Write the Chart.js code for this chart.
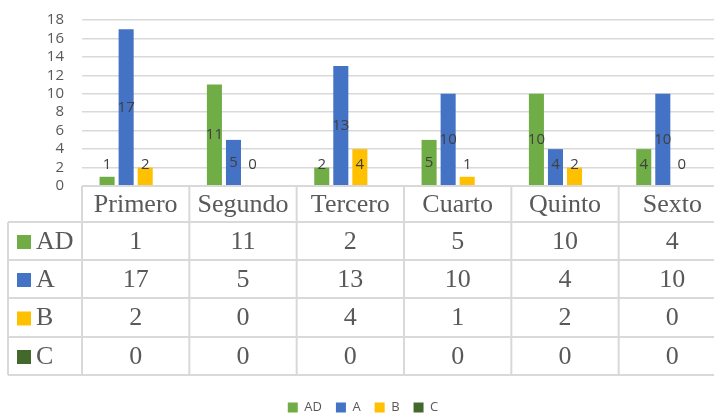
<!DOCTYPE html>
<html>
<head>
<meta charset="utf-8">
<script src="https://cdn.jsdelivr.net/npm/chart.js@4"></script>
<style>
  html, body { margin: 0; padding: 0; background: #fff; width: 714px; height: 417px; overflow: hidden; }
  #wrap { width: 726px; height: 417px; }
</style>
</head>
<body>
<div id="wrap"><canvas id="grafico" width="726" height="417"></canvas></div>
<script>
// datos
const grados = ['Primero', 'Segundo', 'Tercero', 'Cuarto', 'Quinto', 'Sexto'];
const nivelAD = [1, 11, 2, 5, 10, 4];
const nivelA = [17, 5, 13, 10, 4, 10];
const nivelB = [2, 0, 4, 1, 2, 0];
const nivelC = [0, 0, 0, 0, 0, 0];
const marcasY = [0, 2, 4, 6, 8, 10, 12, 14, 16, 18];

const colores = { AD: '#70AD47', A: '#4472C4', B: '#FFC000', C: '#43682B' };
const gris = '#595959';
const linea = '#d9d9d9';

// etiquetas de datos (centradas, sin bajar de cierta altura)
const etiquetas = {
  id: 'etiquetas',
  afterDatasetsDraw(chart) {
    const ctx = chart.ctx;
    ctx.save();
    ctx.font = '15px "Open Sans"';
    ctx.fillStyle = '#404040';
    ctx.textAlign = 'center';
    ctx.textBaseline = 'middle';
    [0, 1, 2].forEach(i => {
      chart.getDatasetMeta(i).data.forEach((bar, j) => {
        const y = Math.min((bar.y + bar.base) / 2, bar.base - 21);
        ctx.fillText(chart.data.datasets[i].data[j], bar.x, y);
      });
    });
    ctx.restore();
  }
};

// tabla de datos bajo el eje
const tabla = {
  id: 'tabla',
  afterLayout(chart) {
    // la leyenda va un poco más abajo
    chart.legend.top += 7;
    chart.legend.bottom += 7;
  },
  afterDraw(chart) {
    const { ctx, chartArea } = chart;
    const izq = chartArea.left, der = chartArea.right, top = chartArea.bottom;
    const colW = (der - izq) / grados.length;
    const filas = [top, top + 36, top + 74, top + 112, top + 151, top + 189];
    const x0 = 8;

    ctx.save();
    ctx.strokeStyle = linea;
    ctx.lineWidth = 2;
    ctx.beginPath();
    // horizontales
    ctx.moveTo(izq, filas[0]); ctx.lineTo(der, filas[0]);
    for (let r = 1; r < filas.length; r++) {
      ctx.moveTo(x0, filas[r]); ctx.lineTo(der, filas[r]);
    }
    // verticales
    ctx.moveTo(x0, filas[1]); ctx.lineTo(x0, filas[5]);
    for (let k = 0; k <= grados.length; k++) {
      const x = izq + k * colW;
      ctx.moveTo(x, filas[0]); ctx.lineTo(x, filas[5]);
    }
    ctx.stroke();

    ctx.font = '26px "Liberation Serif"';
    ctx.fillStyle = gris;
    ctx.textBaseline = 'middle';
    ctx.textAlign = 'center';
    grados.forEach((g, k) => {
      ctx.fillText(g, izq + (k + 0.5) * colW, (filas[0] + filas[1]) / 2 + 1);
    });

    chart.data.datasets.forEach((ds, r) => {
      const yc = (filas[r + 1] + filas[r + 2]) / 2 + 1;
      ctx.fillStyle = ds.backgroundColor;
      ctx.fillRect(17, yc - 7, 14, 14);
      ctx.fillStyle = gris;
      ctx.textAlign = 'left';
      ctx.fillText(ds.label, 36, yc);
      ctx.textAlign = 'center';
      ds.data.forEach((v, k) => {
        ctx.fillText(v, izq + (k + 0.5) * colW, yc);
      });
    });
    ctx.restore();
  }
};

new Chart(document.getElementById('grafico'), {
  type: 'bar',
  data: {
    labels: grados,
    datasets: [
      { label: 'AD', data: nivelAD, backgroundColor: colores.AD },
      { label: 'A', data: nivelA, backgroundColor: colores.A },
      { label: 'B', data: nivelB, backgroundColor: colores.B },
      { label: 'C', data: nivelC, backgroundColor: colores.C }
    ]
  },
  options: {
    responsive: false,
    animation: false,
    layout: { padding: { top: 20, left: 0, right: 0, bottom: 0 } },
    datasets: { bar: { categoryPercentage: 0.71, barPercentage: 0.79 } },
    scales: {
      x: {
        ticks: { display: false },
        grid: { display: false },
        border: { display: false },
        afterFit: s => { s.height = s.chart.height - s.chart.legend.height - 186; }
      },
      y: {
        min: 0,
        max: 18,
        afterBuildTicks: s => { s.ticks = marcasY.map(v => ({ value: v })); },
        afterFit: s => { s.width = 82; s.paddingTop = 0; s.paddingBottom = 0; },
        ticks: { color: gris, padding: 18, autoSkip: false, font: { family: '"Open Sans"', size: 15 } },
        grid: { color: linea, lineWidth: 1.5, drawTicks: false },
        border: { display: false }
      }
    },
    plugins: {
      tooltip: { enabled: false },
      legend: {
        position: 'bottom',
        labels: {
          boxWidth: 10,
          boxHeight: 10,
          padding: 14,
          color: gris,
          font: { family: '"Open Sans"', size: 13 }
        }
      }
    }
  },
  plugins: [etiquetas, tabla]
});
</script>
</body>
</html>
